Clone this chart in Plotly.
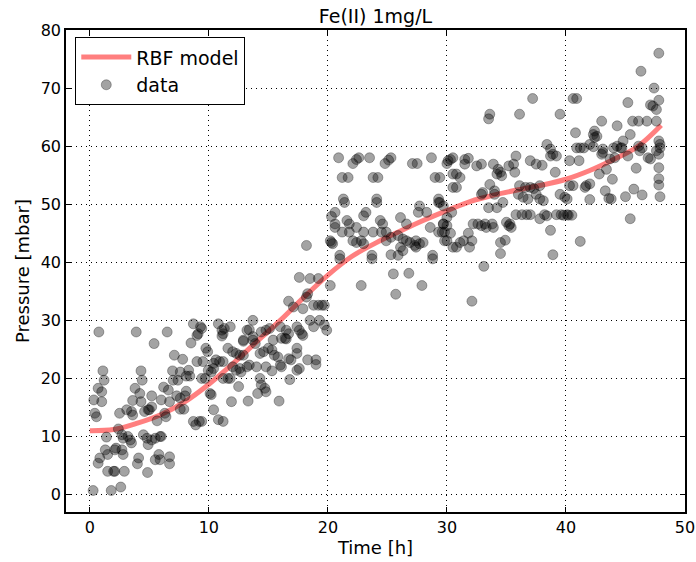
import plotly.graph_objects as go

# RBF model curve
model_t = [0, 2, 4, 6, 8, 10, 12, 14, 16, 18, 20, 22, 24, 26, 28, 30, 32, 34, 36, 38, 40, 42, 44, 46, 48]
model_p = [11.0, 11.2, 12.3, 13.8, 16.0, 19.0, 22.5, 26.3, 30.0, 34.0, 37.8, 41.0, 43.3, 45.3, 47.2,
           48.9, 50.5, 51.6, 52.5, 53.3, 54.3, 55.8, 57.7, 59.9, 63.6]

data_pts = [
    (0.76, 28.0), (3.9, 28.0), (6.5, 28.0), (5.4, 26.0), (8.7, 29.4), (9.3, 28.9), (9.1, 27.7), (9.0, 27.4),
    (8.5, 26.1), (9.75, 25.2), (9.9, 24.6), (7.1, 24.0), (7.8, 23.3), (9.0, 22.9), (9.5, 22.9), (1.1, 21.3),
    (4.3, 21.3), (6.95, 21.3), (7.6, 21.1), (8.3, 21.4), (8.4, 20.4), (8.1, 20.4), (9.95, 21.4), (9.7, 20.0),
    (1.2, 19.7), (4.4, 19.7), (7.0, 19.7), (7.4, 19.7), (0.7, 18.3), (1.0, 17.7), (3.8, 18.3), (4.2, 17.4),
    (6.2, 18.5), (6.6, 18.0), (5.2, 17.0), (7.3, 17.0), (7.6, 16.6), (8.0, 17.0), (8.1, 17.8), (0.34, 16.3),
    (1.0, 16.0), (3.6, 16.2), (4.3, 16.0), (6.0, 16.3), (6.7, 16.0), (10.1, 17.4),
    (5.2, 15.1), (5.0, 14.6), (0.42, 14.0), (0.56, 13.4), (2.5, 14.0), (3.1, 14.6), (3.5, 14.3), (3.6, 13.7),
    (4.6, 14.3), (4.9, 14.6), (5.65, 12.7), (6.3, 14.0), (6.4, 13.4), (7.6, 14.7), (7.9, 14.7), (8.7, 12.6),
    (9.2, 12.6), (8.9, 12.0), (2.4, 11.3), (1.4, 9.9), (2.7, 10.3), (3.2, 10.0), (3.4, 9.4), (2.8, 9.7),
    (3.5, 8.9), (4.5, 10.3), (4.8, 9.7), (4.9, 8.6), (5.2, 9.4), (5.5, 9.7), (5.9, 10.0), (6.0, 10.0),
    (1.3, 7.7), (2.1, 7.7), (2.2, 8.0), (2.7, 7.7), (1.5, 6.9), (0.84, 6.3), (0.7, 5.4), (2.8, 6.9),
    (4.1, 6.3), (4.0, 5.3), (5.5, 6.0), (5.8, 6.9), (5.9, 6.0), (6.7, 6.5), (6.7, 5.3), (1.5, 4.0),
    (2.0, 4.0), (2.1, 4.0), (2.9, 4.0), (4.85, 3.8), (0.28, 0.7), (1.8, 0.7), (2.6, 1.3),
    (11.1, 27.3), (12.9, 26.4), (13.7, 26.6), (13.9, 26.0), (15.4, 26.6), (16.1, 26.9), (16.5, 26.8),
    (17.9, 27.4), (11.6, 25.2), (12.0, 24.6), (12.3, 24.3), (12.6, 24.0), (12.9, 24.0), (14.3, 24.3),
    (14.6, 24.6), (15.0, 25.2), (15.3, 24.9), (15.5, 24.0), (15.8, 23.7), (17.4, 25.2), (17.4, 24.3),
    (16.7, 23.4), (16.9, 23.2), (18.3, 23.2), (19.0, 23.2), (19.0, 22.4), (17.6, 21.7), (17.4, 21.4),
    (10.4, 22.6), (10.6, 23.2), (10.9, 22.9), (11.2, 22.9), (10.2, 21.1), (10.4, 21.7), (12.0, 22.0),
    (12.3, 21.4), (12.7, 21.1), (12.6, 21.7), (13.2, 22.0), (13.4, 22.3), (14.0, 22.0), (14.8, 22.0),
    (15.3, 21.3), (16.0, 22.3), (16.1, 22.0), (9.4, 20.0), (11.2, 20.0), (11.6, 20.0), (11.8, 20.0),
    (14.3, 20.0), (16.8, 19.8), (12.5, 18.6), (14.4, 18.9), (14.7, 18.3), (14.8, 17.7), (14.1, 17.4),
    (10.2, 17.2), (11.9, 16.0), (13.3, 16.1), (15.9, 16.1), (10.4, 14.6), (10.8, 12.9), (11.2, 12.6), (9.4, 12.6),
    (18.2, 42.9), (20.2, 43.7), (20.3, 43.4), (17.6, 37.4), (18.5, 37.2), (19.2, 37.2), (18.3, 34.6),
    (18.2, 34.0), (16.7, 33.3), (17.1, 32.3), (17.9, 32.0), (18.8, 32.6), (19.2, 32.6), (19.5, 32.6),
    (19.7, 32.6), (10.8, 29.4), (13.7, 30.0), (11.3, 28.6), (11.1, 28.3), (11.8, 28.9), (11.2, 27.7),
    (13.2, 28.3), (13.4, 28.4), (12.9, 26.6), (13.7, 27.2), (14.4, 28.0), (14.8, 28.3), (15.1, 28.6),
    (16.0, 28.9), (16.5, 28.3), (16.7, 27.7), (17.4, 28.9), (17.6, 28.3), (17.8, 27.7), (18.5, 30.0),
    (19.3, 30.0), (18.8, 28.9), (19.7, 29.2), (19.9, 28.3), (9.4, 28.6), (16.4, 26.9),
    (20.9, 58.0), (22.1, 57.0), (22.4, 57.7), (22.6, 58.0), (23.5, 58.0), (24.8, 57.0), (25.1, 57.6),
    (25.3, 58.0), (27.1, 57.0), (27.5, 57.0), (28.7, 58.0), (30.0, 57.0), (30.1, 57.5), (21.2, 54.6),
    (21.7, 54.6), (23.8, 54.6), (24.2, 54.6), (29.0, 54.6), (29.4, 54.6), (21.3, 50.9), (21.4, 50.3),
    (24.1, 50.9), (24.1, 50.3), (29.3, 50.9), (29.3, 50.3), (27.7, 49.7), (27.6, 48.6), (28.3, 48.6),
    (20.6, 48.6), (20.3, 47.9), (20.6, 46.6), (21.6, 47.2), (21.8, 46.6), (23.0, 48.0), (23.2, 48.6),
    (24.4, 47.2), (24.6, 46.6), (26.1, 47.7), (26.6, 46.6), (29.7, 46.6), (30.0, 47.7), (30.4, 48.6), (30.5, 55.2),
    (20.6, 46.0), (21.2, 45.2), (21.8, 45.2), (22.4, 46.0), (23.0, 45.2), (23.8, 45.2), (24.5, 45.2),
    (24.9, 45.2), (20.4, 43.2), (22.1, 43.7), (22.4, 43.4), (22.8, 43.7), (23.0, 43.2), (24.9, 43.7),
    (25.3, 44.3), (25.9, 44.6), (26.3, 44.0), (26.6, 43.7), (26.9, 43.4), (27.4, 43.7), (27.7, 43.2),
    (28.0, 43.4), (27.4, 42.6), (27.3, 42.9), (26.1, 42.6), (26.3, 42.0), (25.9, 41.2), (25.3, 41.3),
    (28.6, 46.0), (29.3, 45.2), (29.8, 45.2), (30.0, 43.7), (30.5, 42.6), (21.0, 41.2), (21.0, 40.6),
    (23.7, 41.2), (23.7, 40.6), (28.8, 41.2), (28.8, 40.6), (25.5, 38.0), (26.8, 38.1), (20.2, 36.0),
    (22.8, 36.0), (27.9, 36.0), (25.7, 34.5),
    (37.2, 68.2), (33.5, 64.7), (33.6, 65.5), (36.1, 65.5), (39.5, 65.5), (40.6, 68.2), (38.4, 60.3),
    (38.7, 59.5), (38.9, 58.6), (38.7, 58.3), (39.2, 58.3), (39.1, 55.5), (35.8, 58.3), (37.0, 57.5),
    (37.5, 56.9), (38.0, 56.7), (30.3, 57.7), (30.5, 58.0), (31.5, 57.7), (31.8, 57.9), (31.5, 56.9),
    (32.5, 56.6), (32.9, 56.9), (33.9, 56.9), (34.3, 56.0), (34.6, 54.9), (34.2, 55.2), (34.5, 55.5),
    (35.2, 56.6), (35.6, 56.9), (35.7, 55.5), (30.8, 55.2), (31.1, 54.6), (30.5, 52.9), (30.8, 52.9),
    (33.6, 53.4), (33.0, 52.0), (34.0, 52.3), (36.1, 53.2), (36.6, 52.9), (37.0, 52.9), (37.3, 52.7),
    (37.8, 53.2), (40.3, 53.2), (40.6, 53.2), (36.0, 51.7), (37.5, 51.7), (39.5, 51.7),
    (32.9, 51.7), (34.0, 51.7), (36.4, 51.2), (36.8, 50.9), (37.8, 50.9), (38.1, 50.6), (39.9, 51.2),
    (40.1, 50.9), (33.5, 49.4), (34.2, 49.4), (34.7, 50.3), (29.4, 50.3), (29.7, 49.7), (35.8, 48.2),
    (36.3, 48.2), (36.7, 48.2), (37.0, 48.2), (38.2, 48.2), (39.2, 48.2), (39.6, 48.2), (40.1, 48.2),
    (37.8, 47.5), (38.4, 48.0), (32.2, 46.6), (32.6, 46.6), (32.9, 46.3), (33.3, 46.0), (33.9, 46.0),
    (33.8, 46.6), (33.2, 46.6), (35.0, 46.9), (35.3, 46.6), (35.4, 46.0), (35.2, 46.3), (29.7, 46.6),
    (30.0, 46.3), (29.6, 45.2), (30.3, 45.0), (31.8, 45.0), (31.4, 43.7), (31.1, 43.4), (30.8, 42.6),
    (32.1, 43.7), (31.9, 42.6), (29.8, 43.7), (38.7, 45.5), (34.5, 43.4), (34.9, 43.8), (34.5, 41.5),
    (38.9, 41.3), (33.1, 39.3), (32.1, 33.3),
    (47.8, 76.0), (46.3, 72.9), (47.4, 70.0), (40.9, 68.2), (45.2, 67.5), (47.1, 67.1), (47.3, 66.9),
    (47.6, 66.3), (47.8, 67.9), (43.0, 64.3), (45.6, 64.3), (46.1, 64.3), (46.8, 64.3), (47.6, 64.3),
    (44.3, 63.5), (40.8, 62.3), (42.4, 62.6), (42.3, 62.0), (42.4, 61.5), (42.6, 61.7), (45.4, 62.0),
    (44.8, 60.9), (47.8, 60.9), (47.9, 60.3), (42.0, 60.3), (42.3, 59.9), (44.3, 60.0), (44.6, 59.7),
    (40.9, 59.7), (41.2, 59.7), (41.5, 59.7), (46.1, 60.0), (46.4, 59.7),
    (43.1, 59.5), (44.0, 59.7), (44.7, 59.7), (46.2, 59.2), (47.1, 57.8), (46.9, 58.0), (47.6, 59.2),
    (47.9, 59.7), (47.8, 58.6), (43.1, 58.9), (43.0, 58.6), (45.2, 58.3), (43.7, 57.8), (44.1, 58.0),
    (40.3, 57.5), (41.1, 57.5), (43.4, 56.0), (45.9, 56.2), (47.8, 56.3), (42.8, 55.2), (43.9, 54.3),
    (47.8, 54.4), (47.8, 53.3), (41.6, 52.9), (41.7, 53.2), (42.0, 53.5), (43.3, 52.3), (45.7, 52.6),
    (42.0, 50.8), (43.6, 51.0), (43.8, 50.9), (45.0, 51.3), (46.4, 51.6), (47.9, 51.3), (39.8, 48.1),
    (40.2, 48.1), (40.5, 48.1), (45.4, 47.5), (41.2, 43.6),
]
data_t = [p[0] for p in data_pts]
data_p = [p[1] for p in data_pts]

x_ticks = [0, 10, 20, 30, 40, 50]
y_ticks = [0, 10, 20, 30, 40, 50, 60, 70, 80]

FONT = "DejaVu Sans"

fig = go.Figure()
fig.add_trace(go.Scatter(
    x=model_t, y=model_p, mode="lines", name="RBF model",
    line=dict(color="rgba(255,0,0,0.5)", width=5, shape="spline"),
))
fig.add_trace(go.Scatter(
    x=data_t, y=data_p, mode="markers", name="data",
    marker=dict(size=10, color="rgba(0,0,0,0.36)", line=dict(width=1, color="rgba(0,0,0,0.3)")),
))

axis_common = dict(
    showgrid=True, gridcolor="black", griddash="1px,4px", gridwidth=1,
    zeroline=False, showline=True, linecolor="black", linewidth=1.5, mirror="allticks",
    ticks="inside", ticklen=5, tickcolor="black", tickwidth=1,
    tickfont=dict(family=FONT, size=16, color="black"),
    automargin=False,
)

fig.update_layout(
    width=696, height=562,
    margin=dict(l=66, r=11, t=30, b=50),
    paper_bgcolor="white", plot_bgcolor="white",
    font=dict(family=FONT, color="black"),
    title=dict(text="Fe(II) 1mg/L", x=0.5, xref="paper", xanchor="center",
               y=1, yref="paper", yanchor="bottom", pad=dict(b=7),
               font=dict(family=FONT, size=19, color="black"), automargin=False),
    xaxis=dict(range=[-2, 50], tickvals=x_ticks,
               title=dict(text="Time [h]", font=dict(family=FONT, size=18), standoff=2),
               **axis_common),
    yaxis=dict(range=[-3, 80], tickvals=y_ticks,
               title=dict(text="Pressure [mbar]", font=dict(family=FONT, size=18), standoff=6),
               **axis_common),
    legend=dict(x=0.015, y=0.985, xanchor="left", yanchor="top",
                bgcolor="white", bordercolor="black", borderwidth=1,
                font=dict(family=FONT, size=19, color="black"),
                itemwidth=50, tracegroupgap=2),
    showlegend=True,
)

# remove the default page margin so the figure fills the 696x562 window exactly
fig.write_html("out.html",
               config={"displayModeBar": False},
               post_script="document.body.style.margin='0';document.body.style.overflow='hidden';")
